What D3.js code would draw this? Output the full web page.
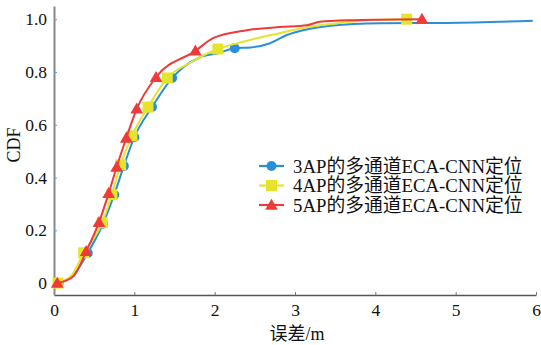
<!DOCTYPE html>
<html>
<head>
<meta charset="utf-8">
<script src="https://cdn.jsdelivr.net/npm/d3@7/dist/d3.min.js"></script>
<style>
body { margin: 0; background: #fff; }
text { font-family: "Liberation Serif", "Noto Sans CJK SC", serif; }
</style>
</head>
<body>
<div id="chart"></div>
<script>
// curve samples (error in m, CDF)
var ap3X = [0.06, 0.24, 0.42, 0.61, 0.75, 0.87, 1.0, 1.22, 1.47, 1.61, 1.82, 2.04, 2.25, 2.45, 2.69, 2.9, 3.1, 3.44, 4.06, 4.89, 5.96];
var ap3Y = [0.0, 0.03, 0.114, 0.225, 0.335, 0.444, 0.553, 0.667, 0.777, 0.818, 0.856, 0.871, 0.89, 0.893, 0.909, 0.94, 0.958, 0.975, 0.985, 0.986, 0.994];
var ap3Marks = [0, 2, 3, 4, 5, 6, 7, 8, 12];

var ap4X = [0.05, 0.22, 0.37, 0.6, 0.72, 0.83, 0.97, 1.17, 1.41, 1.69, 2.04, 2.28, 2.53, 2.81, 3.15, 3.65, 3.9, 4.39];
var ap4Y = [0.0, 0.03, 0.115, 0.229, 0.335, 0.448, 0.558, 0.667, 0.777, 0.834, 0.887, 0.909, 0.928, 0.947, 0.97, 0.989, 0.996, 1.0];
var ap4Marks = [0, 2, 3, 4, 5, 6, 7, 8, 10, 17];

var ap5X = [0.04, 0.24, 0.4, 0.56, 0.68, 0.78, 0.9, 1.03, 1.27, 1.76, 1.98, 2.4, 2.81, 3.15, 3.31, 3.65, 4.58];
var ap5Y = [0.0, 0.025, 0.12, 0.23, 0.34, 0.44, 0.55, 0.66, 0.78, 0.88, 0.928, 0.958, 0.97, 0.977, 0.99, 0.996, 1.0];
var ap5Marks = [0, 2, 3, 4, 5, 6, 7, 8, 9, 16];

var seriesNames = ["3AP的多通道ECA-CNN定位", "4AP的多通道ECA-CNN定位", "5AP的多通道ECA-CNN定位"];
var seriesColors = ["#2a8fd8", "#e4e42c", "#ef3a3a"];
var seriesShapes = ["circle", "square", "triangle"];

var xTicks = [0, 1, 2, 3, 4, 5, 6];
var yTicks = [0, 0.2, 0.4, 0.6, 0.8, 1.0];

var W = 541, H = 345;

var xScale = d3.scaleLinear().domain([0, 6]).range([54, 536]),
	yScale = d3.scaleLinear().domain([-0.045, 1.05]).range([295, 6]);

var svg = d3.select("#chart").append("svg")
	.attr("width", W)
	.attr("height", H);

// axes
var xAxis = svg.append("g")
	.attr("transform", "translate(0,295)")
	.call(d3.axisBottom(xScale).tickValues(xTicks).tickSize(-3).tickSizeOuter(0).tickPadding(9).tickFormat(d3.format("d")));
xAxis.select(".domain").attr("stroke", "#555").attr("stroke-width", 1.5);
xAxis.selectAll(".tick line").attr("stroke", "#777");
xAxis.selectAll(".tick text").attr("fill", "#111").style("font-size", "17.5px");

var yAxis = svg.append("g")
	.attr("transform", "translate(54,0)")
	.call(d3.axisLeft(yScale).tickValues(yTicks).tickSize(-3).tickSizeOuter(0).tickPadding(7)
		.tickFormat(function(d) { return d === 0 ? "0" : d3.format(".1f")(d); }));
yAxis.select(".domain").attr("stroke", "#888").attr("stroke-width", 2);
yAxis.selectAll(".tick line").attr("stroke", "#5aa6d8");
yAxis.selectAll(".tick text").attr("fill", "#111").style("font-size", "17.5px");

// axis labels
svg.append("text")
	.attr("x", 297)
	.attr("y", 340)
	.attr("text-anchor", "middle")
	.style("font-size", "18px")
	.attr("fill", "#111")
	.text("误差/m");

svg.append("text")
	.attr("transform", "translate(20,145) rotate(-90)")
	.attr("text-anchor", "middle")
	.style("font-size", "18px")
	.attr("fill", "#111")
	.text("CDF");

var series = [
	{ xs: ap3X, ys: ap3Y, marks: ap3Marks },
	{ xs: ap4X, ys: ap4Y, marks: ap4Marks },
	{ xs: ap5X, ys: ap5Y, marks: ap5Marks }
];

var line = d3.line()
	.x(function(d) { return xScale(d[0]); })
	.y(function(d) { return yScale(d[1]); })
	.curve(d3.curveMonotoneX);

function drawMarker(g, shape, color, cx, cy) {
	if (shape === "circle") {
		g.append("circle").attr("cx", cx).attr("cy", cy).attr("r", 5).attr("fill", color);
	} else if (shape === "square") {
		g.append("rect").attr("x", cx - 5.5).attr("y", cy - 5.5).attr("width", 11).attr("height", 11).attr("fill", color);
	} else {
		g.append("path")
			.attr("d", d3.symbol().type(d3.symbolTriangle).size(70)())
			.attr("transform", "translate(" + cx + "," + (cy + 1) + ")")
			.attr("fill", color);
	}
}

series.forEach(function(s, i) {
	var pts = s.xs.map(function(v, j) { return [v, s.ys[j]]; });
	var g = svg.append("g");
	g.append("path")
		.datum(pts)
		.attr("d", line)
		.attr("fill", "none")
		.attr("stroke", seriesColors[i])
		.attr("stroke-width", 2);
	s.marks.forEach(function(j) {
		drawMarker(g, seriesShapes[i], seriesColors[i], xScale(pts[j][0]), yScale(pts[j][1]));
	});
});

// legend
var legend = svg.append("g");
seriesNames.forEach(function(name, i) {
	var ly = 166 + i * 19.5;
	legend.append("line")
		.attr("x1", 259).attr("x2", 284)
		.attr("y1", ly).attr("y2", ly)
		.attr("stroke", seriesColors[i])
		.attr("stroke-width", 2.2);
	drawMarker(legend, seriesShapes[i], seriesColors[i], 271.5, ly);
	legend.append("text")
		.attr("x", 293)
		.attr("y", ly + 6.5)
		.style("font-size", "18.8px")
		.attr("fill", "#111")
		.text(name);
});
</script>
</body>
</html>
